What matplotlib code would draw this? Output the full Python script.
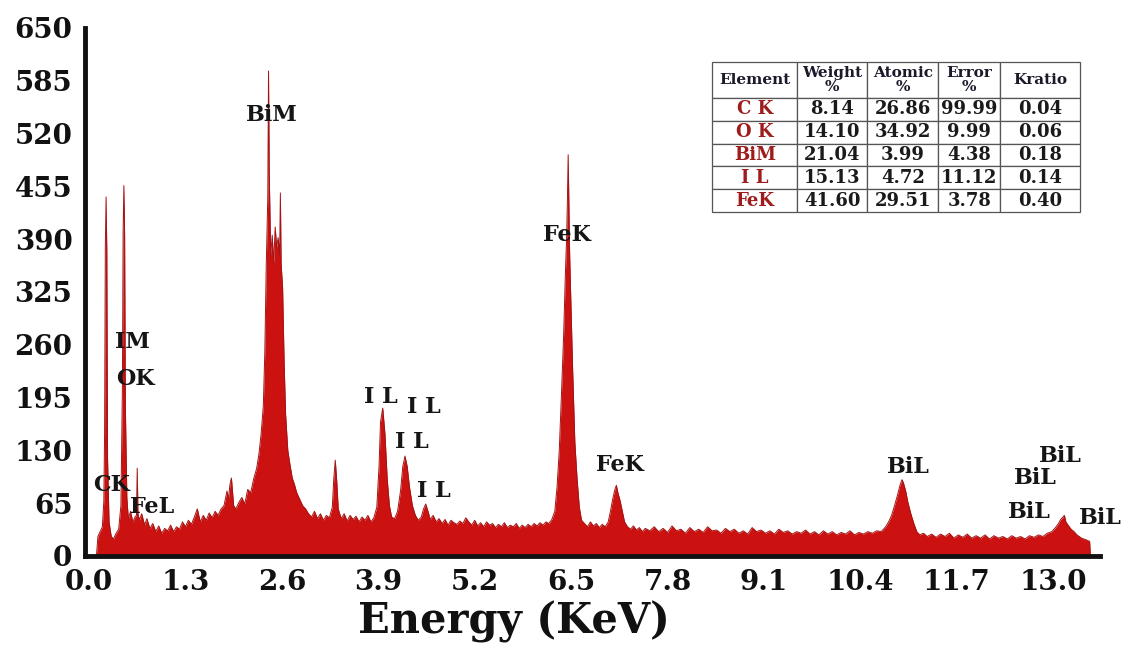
import matplotlib
matplotlib.use("Agg")
import matplotlib.pyplot as plt

plt.rcParams['font.family'] = ['DejaVu Serif']
plt.rcParams['font.weight'] = 'bold'

# EDS spectrum (energy in keV, counts)
energy_kev = [
    0.10, 0.12, 0.15, 0.18, 0.20, 0.21, 0.22, 0.23, 0.24, 0.25,
    0.27, 0.30, 0.33, 0.36, 0.40, 0.43, 0.45, 0.46, 0.47, 0.48,
    0.49, 0.51, 0.53, 0.56, 0.59, 0.62, 0.64, 0.65, 0.66, 0.68,
    0.71, 0.75, 0.78, 0.82, 0.86, 0.90, 0.94, 0.98, 1.02, 1.06,
    1.10, 1.14, 1.18, 1.22, 1.26, 1.30, 1.34, 1.38, 1.42, 1.46,
    1.50, 1.54, 1.58, 1.62, 1.66, 1.70, 1.74, 1.78, 1.82, 1.86,
    1.88, 1.90, 1.92, 1.95, 1.98, 2.02, 2.06, 2.10, 2.14, 2.18,
    2.22, 2.26, 2.29, 2.32, 2.35, 2.37, 2.39, 2.41, 2.42, 2.43,
    2.45, 2.47, 2.49, 2.51, 2.53, 2.55, 2.57, 2.58, 2.59, 2.61,
    2.63, 2.65, 2.68, 2.71, 2.74, 2.77, 2.80, 2.84, 2.88, 2.92,
    2.96, 3.00, 3.04, 3.08, 3.12, 3.16, 3.20, 3.24, 3.28, 3.30,
    3.32, 3.34, 3.36, 3.40, 3.44, 3.48, 3.52, 3.56, 3.60, 3.64,
    3.68, 3.72, 3.76, 3.80, 3.84, 3.88, 3.91, 3.93, 3.96, 3.99,
    4.02, 4.05, 4.08, 4.12, 4.16, 4.20, 4.23, 4.26, 4.29, 4.32,
    4.36, 4.40, 4.44, 4.48, 4.51, 4.54, 4.57, 4.60, 4.64, 4.68,
    4.72, 4.76, 4.80, 4.84, 4.88, 4.92, 4.96, 5.00, 5.04, 5.08,
    5.12, 5.16, 5.20, 5.24, 5.28, 5.32, 5.36, 5.40, 5.44, 5.48,
    5.52, 5.56, 5.60, 5.64, 5.68, 5.72, 5.76, 5.80, 5.84, 5.88,
    5.92, 5.96, 6.00, 6.04, 6.08, 6.12, 6.16, 6.20, 6.24, 6.28,
    6.31, 6.34, 6.37, 6.40, 6.42, 6.44, 6.45, 6.46, 6.47, 6.48,
    6.50, 6.52, 6.55, 6.58, 6.61, 6.64, 6.68, 6.72, 6.76, 6.80,
    6.84, 6.88, 6.92, 6.96, 7.00, 7.03, 7.06, 7.09, 7.11, 7.13,
    7.16, 7.19, 7.22, 7.26, 7.30, 7.34, 7.38, 7.42, 7.46, 7.50,
    7.56, 7.62, 7.68, 7.74, 7.80, 7.86, 7.92, 7.98, 8.04, 8.10,
    8.16, 8.22, 8.28, 8.34, 8.40, 8.46, 8.52, 8.58, 8.64, 8.70,
    8.76, 8.82, 8.88, 8.94, 9.00, 9.06, 9.12, 9.18, 9.24, 9.30,
    9.36, 9.42, 9.48, 9.54, 9.60, 9.66, 9.72, 9.78, 9.84, 9.90,
    9.96, 10.02, 10.08, 10.14, 10.20, 10.26, 10.32, 10.38, 10.44, 10.50,
    10.56, 10.62, 10.68, 10.74, 10.78, 10.82, 10.86, 10.90, 10.93, 10.96,
    10.98, 11.01, 11.04, 11.08, 11.12, 11.16, 11.20, 11.25, 11.30, 11.36,
    11.42, 11.48, 11.54, 11.60, 11.66, 11.72, 11.78, 11.84, 11.90, 11.96,
    12.02, 12.08, 12.14, 12.20, 12.26, 12.32, 12.38, 12.44, 12.50, 12.56,
    12.62, 12.68, 12.74, 12.80, 12.86, 12.92, 12.98, 13.03, 13.07, 13.10,
    13.13, 13.15, 13.17, 13.20, 13.24, 13.28, 13.32, 13.38, 13.44, 13.49,
    13.50,
]
counts = [
    0, 24, 30, 36, 68, 150, 380, 442, 375, 120,
    42, 24, 21, 27, 33, 62, 205, 400, 456, 395,
    185, 72, 46, 55, 42, 48, 50, 108, 52, 44,
    52, 38, 46, 34, 40, 30, 37, 28, 34, 31,
    38, 30, 36, 33, 42, 36, 44, 39, 48, 58,
    42, 50, 44, 53, 47, 55, 50, 58, 62, 80,
    70, 88, 96, 62, 58, 66, 72, 64, 82, 78,
    95, 108, 125, 150, 185, 250, 360, 440, 597, 470,
    370, 395, 360, 405, 380, 392, 370, 447, 360, 330,
    240, 175, 130, 112, 96, 88, 78, 70, 62, 58,
    52, 48, 55, 46, 52, 44, 50, 47, 60, 95,
    118, 92, 58, 46, 52, 43, 50, 45, 49, 42,
    48, 44, 50, 42, 47, 60, 110, 165, 182, 150,
    95, 62, 48, 46, 55, 80, 110, 123, 110, 85,
    62, 50, 44, 48, 58, 64, 55, 45, 50, 42,
    46, 40, 45, 38, 44, 41, 39, 43, 40, 47,
    42, 38, 44, 37, 41, 36, 42, 38, 40, 35,
    39, 36, 41, 35, 38, 36, 40, 34, 38, 35,
    39, 36, 40, 37, 41, 38, 42, 40, 45, 55,
    85, 130, 200, 275, 340, 395, 440, 494, 430, 370,
    300, 230, 140, 95, 60, 44, 40, 36, 42, 37,
    40, 35, 39, 36, 42, 55, 70, 82, 87, 78,
    68, 55, 42, 36, 33, 37, 32, 35, 30, 34,
    31, 36, 30, 34, 29, 37, 31, 33, 28, 35,
    30, 33, 29, 36, 31, 32, 28, 34, 30, 33,
    28, 31, 27, 35, 30, 32, 28, 31, 27, 33,
    29, 31, 27, 30, 28, 32, 27, 30, 26, 31,
    27, 30, 26, 29, 27, 31, 26, 29, 27, 30,
    28, 31, 30, 36, 42, 50, 62, 75, 86, 94,
    90, 80, 66, 52, 40, 30, 26, 28, 24, 27,
    23, 27, 24, 28, 22, 26, 23, 27, 22, 25,
    22, 26, 21, 25, 22, 24, 21, 25, 22, 24,
    21, 25, 23, 26, 24, 28, 30, 35, 40, 45,
    48, 50, 42, 38, 33, 30, 26, 22, 20, 18,
    0,
]

x_ticks = [0.0, 1.3, 2.6, 3.9, 5.2, 6.5, 7.8, 9.1, 10.4, 11.7, 13.0]
x_tick_labels = ["0.0", "1.3", "2.6", "3.9", "5.2", "6.5", "7.8", "9.1", "10.4", "11.7", "13.0"]
y_ticks = [0, 65, 130, 195, 260, 325, 390, 455, 520, 585, 650]

# peak labels (text, energy, counts)
peak_names = ["BiM", "IM", "OK", "CK", "FeL", "I L", "I L", "I L", "I L",
              "FeK", "FeK", "BiL", "BiL", "BiL", "BiL", "BiL"]
peak_x = [2.47, 0.59, 0.62, 0.31, 0.85, 3.94, 4.51, 4.35, 4.65,
          6.44, 7.16, 11.04, 13.10, 12.76, 12.68, 13.64]
peak_y = [543, 263, 218, 87, 60, 196, 184, 140, 80,
          395, 112, 110, 123, 96, 54, 47]

# quantification table
col_labels = ["Element", "Weight\n%", "Atomic\n%", "Error\n%", "Kratio"]
elements = ["C K", "O K", "BiM", "I L", "FeK"]
weight_pct = ["8.14", "14.10", "21.04", "15.13", "41.60"]
atomic_pct = ["26.86", "34.92", "3.99", "4.72", "29.51"]
error_pct = ["99.99", "9.99", "4.38", "11.12", "3.78"]
kratio = ["0.04", "0.06", "0.18", "0.14", "0.40"]

fig = plt.figure(figsize=(11.29, 6.55), dpi=100)
ax = fig.add_axes([85 / 1129, 1 - 556 / 655, 1015 / 1129, 528 / 655])

ax.fill_between(energy_kev, counts, 0, color='#cc1111', lw=0)
ax.plot(energy_kev, counts, color='#a31414', lw=0.7)

ax.set_xlim(-0.054, 13.63)
ax.set_ylim(0, 650)
ax.set_xticks(x_ticks)
ax.set_xticklabels(x_tick_labels)
ax.set_yticks(y_ticks)
ax.tick_params(length=0, pad=9, labelsize=20, colors='#111111')

for s in ['top', 'right']:
    ax.spines[s].set_visible(False)
for s in ['left', 'bottom']:
    ax.spines[s].set_linewidth(3.5)
    ax.spines[s].set_color('#111111')

ax.set_xlabel("Energy (KeV)", fontsize=30, fontweight='bold', color='#111111', va='center')
ax.xaxis.set_label_coords(0.4227, -0.125)

for name, ex, cy in zip(peak_names, peak_x, peak_y):
    ax.text(ex, cy, name, fontsize=16, fontweight='bold', color='#151515',
            ha='center', va='center')

rows = [list(r) for r in zip(elements, weight_pct, atomic_pct, error_pct, kratio)]
tbl = ax.table(cellText=rows, colLabels=col_labels, cellLoc='center',
               bbox=[0.618, 0.6515, 0.3626, 0.284])
tbl.auto_set_font_size(False)
col_w = [85, 70, 71, 62, 80]
for (r, c), cell in tbl.get_celld().items():
    cell.set_width(col_w[c])
    cell.set_height(36 if r == 0 else 22.8)
    cell.set_edgecolor('#555555')
    cell.set_linewidth(0.9)
    txt = cell.get_text()
    txt.set_fontweight('bold')
    if r == 0:
        txt.set_fontsize(11)
        txt.set_linespacing(0.95)
        txt.set_color('#1a1a2a')
    else:
        txt.set_fontsize(13)
        txt.set_color('#9e1c1c' if c == 0 else '#1a1a1a')

fig.savefig("out.png", dpi=100, facecolor='white')
